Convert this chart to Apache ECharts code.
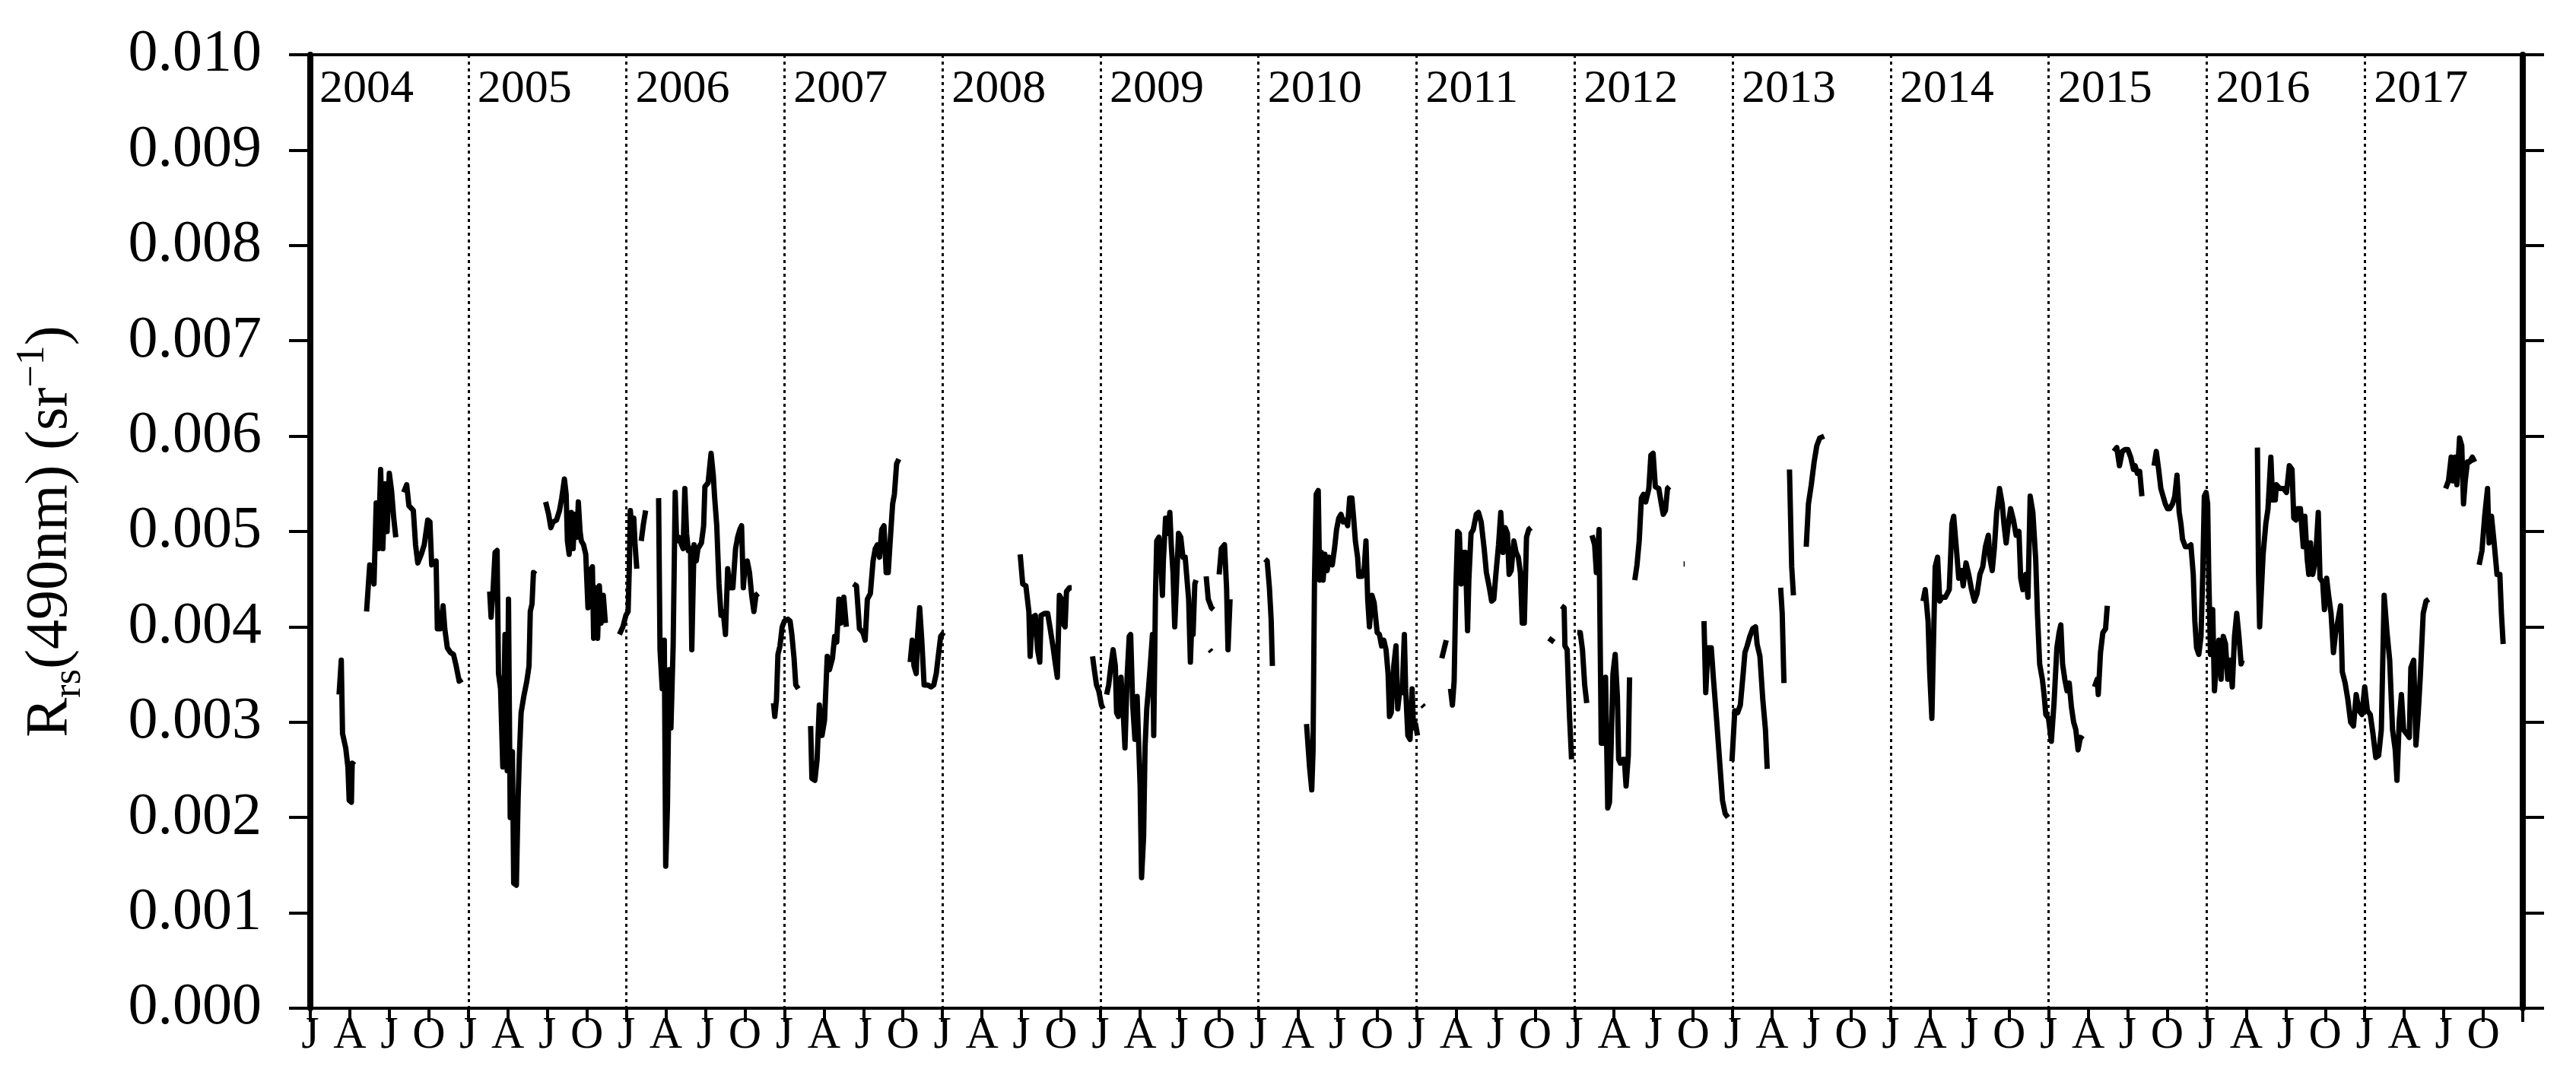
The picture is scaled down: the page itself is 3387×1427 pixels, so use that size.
<!DOCTYPE html>
<html><head><meta charset="utf-8">
<script src="https://cdn.jsdelivr.net/npm/echarts@6/dist/echarts.min.js"></script>
<style>html,body{margin:0;padding:0;background:#fff}#c{width:3387px;height:1427px}</style>
</head><body><div id="c"></div>
<script>
// Rrs(490nm) values in units of 1e-3 sr^-1; each year = list of continuous segments of [fraction of year, value]
const rrs2004 = [
 [[0.182,3.29],[0.196,3.65],[0.204,2.88],[0.224,2.73],[0.238,2.53],[0.246,2.18],[0.260,2.16],[0.265,2.57],[0.279,2.55]],
 [[0.356,4.16],[0.376,4.65],[0.390,4.63],[0.403,4.45],[0.417,5.30],[0.431,4.82],[0.445,5.65],[0.459,4.82],[0.472,5.50],[0.486,5.00],[0.500,5.61],[0.514,5.43],[0.528,5.14],[0.541,4.94]],
 [[0.591,5.41],[0.610,5.49],[0.624,5.27],[0.652,5.22],[0.666,4.86],[0.680,4.67],[0.702,4.76],[0.721,4.86],[0.743,5.12],[0.757,5.10],[0.768,4.65],[0.796,4.69],[0.804,3.98],[0.823,3.98],[0.840,4.22],[0.851,3.98],[0.867,3.78],[0.887,3.73],[0.906,3.71],[0.923,3.59],[0.942,3.43],[0.961,3.45]]
];
const rrs2005 = [
 [[0.135,4.37],[0.144,4.10],[0.157,4.40],[0.169,4.78],[0.182,4.80],[0.191,3.51],[0.204,3.35],[0.218,2.53],[0.232,3.92],[0.246,2.49],[0.254,4.29],[0.265,2.00],[0.279,2.69],[0.287,1.31],[0.304,1.29],[0.315,2.20],[0.323,2.65],[0.334,3.10],[0.351,3.27],[0.370,3.43],[0.384,3.59],[0.392,4.16],[0.403,4.24],[0.412,4.57],[0.425,4.55]],
 [[0.489,5.31],[0.508,5.18],[0.522,5.04],[0.536,5.10],[0.558,5.12],[0.577,5.22],[0.591,5.35],[0.608,5.55],[0.619,5.39],[0.627,4.90],[0.638,4.76],[0.652,5.20],[0.663,4.82],[0.674,5.18],[0.688,4.94],[0.696,5.31],[0.707,5.00],[0.715,4.90],[0.729,4.86],[0.743,4.76],[0.757,4.20],[0.771,4.59],[0.785,4.63],[0.793,3.88],[0.807,4.41],[0.818,3.88],[0.829,4.43],[0.840,4.04],[0.854,4.33],[0.867,4.04]]
];
const rrs2006 = [
 [[-0.044,3.92],[-0.022,4.00],[-0.003,4.12],[0.011,4.16],[0.019,4.65],[0.025,5.22],[0.039,4.94],[0.047,5.14],[0.055,4.86],[0.066,4.61]],
 [[0.094,4.90],[0.108,5.08],[0.122,5.22]],
 [[0.204,5.35],[0.213,3.76],[0.227,3.35],[0.240,3.86],[0.249,1.49],[0.260,2.12],[0.271,3.55],[0.282,2.94],[0.296,3.80],[0.309,5.41],[0.318,4.90],[0.331,4.94],[0.345,4.88],[0.359,4.82],[0.370,5.45],[0.381,4.98],[0.392,4.80],[0.406,4.82],[0.414,3.76],[0.428,4.86],[0.442,4.69],[0.453,4.82],[0.475,4.88],[0.489,5.06],[0.497,5.47],[0.517,5.51],[0.536,5.82],[0.550,5.59],[0.558,5.37],[0.572,5.06],[0.586,4.45],[0.599,4.12],[0.613,4.16],[0.627,3.92],[0.641,4.61],[0.655,4.41],[0.674,4.41],[0.691,4.82],[0.704,4.94],[0.718,5.02],[0.729,5.06],[0.740,4.41],[0.751,4.65],[0.765,4.69],[0.779,4.57],[0.793,4.33],[0.807,4.16],[0.820,4.33],[0.834,4.35]]
];
const rrs2007 = [
 [[-0.069,3.20],[-0.061,3.06],[-0.050,3.24],[-0.041,3.71],[-0.028,3.80],[-0.014,4.00],[0.000,4.06],[0.022,4.08],[0.036,4.06],[0.047,3.92],[0.061,3.67],[0.072,3.39],[0.088,3.35]],
 [[0.166,2.96],[0.174,2.41],[0.193,2.39],[0.207,2.61],[0.221,3.18],[0.238,2.86],[0.254,3.02],[0.271,3.69],[0.285,3.55],[0.304,3.67],[0.318,3.90],[0.331,3.84],[0.345,4.29],[0.359,4.04],[0.376,4.31],[0.392,4.00]],
 [[0.436,4.45],[0.456,4.43],[0.475,3.98],[0.497,3.94],[0.511,3.86],[0.525,4.29],[0.544,4.35],[0.561,4.69],[0.575,4.82],[0.588,4.86],[0.602,4.73],[0.616,5.02],[0.630,5.06],[0.644,4.57],[0.657,4.57],[0.671,4.94],[0.685,5.29],[0.696,5.39],[0.710,5.71],[0.724,5.76]],
 [[0.796,3.63],[0.809,3.86],[0.820,3.59],[0.834,3.51],[0.843,3.92],[0.856,4.20],[0.870,3.84],[0.884,3.39],[0.906,3.39],[0.928,3.37],[0.945,3.39],[0.961,3.51],[0.972,3.67],[0.989,3.90],[1.008,3.94]]
];
const rrs2008 = [
 [[0.492,4.76],[0.508,4.45],[0.528,4.43],[0.547,4.16],[0.555,3.69],[0.569,4.10],[0.588,4.12],[0.602,3.76],[0.616,3.63],[0.624,4.12],[0.646,4.14],[0.666,4.14],[0.680,4.00],[0.699,3.80],[0.713,3.63],[0.727,3.47],[0.740,4.33],[0.754,4.29],[0.762,4.04],[0.776,4.00],[0.785,4.37],[0.804,4.41],[0.818,4.41]],
 [[0.950,3.69],[0.961,3.55],[0.975,3.39],[0.989,3.33],[1.006,3.18],[1.017,3.14]]
];
const rrs2009 = [
 [[0.039,3.29],[0.052,3.39],[0.066,3.59],[0.080,3.76],[0.094,3.59],[0.102,3.10],[0.113,3.06],[0.130,3.47],[0.144,3.10],[0.155,2.73],[0.169,3.49],[0.182,3.90],[0.191,3.92],[0.204,3.18],[0.218,2.82],[0.232,3.27],[0.240,2.86],[0.251,2.33],[0.260,1.37],[0.273,1.80],[0.282,2.73],[0.293,3.14],[0.304,3.35],[0.315,3.59],[0.329,3.92],[0.337,2.86],[0.348,4.33],[0.356,4.90],[0.370,4.94],[0.384,4.61],[0.392,4.33],[0.398,4.69],[0.412,5.14],[0.425,4.98],[0.439,5.20],[0.448,4.86],[0.459,4.57],[0.470,4.00],[0.481,4.45],[0.494,4.98],[0.508,4.94],[0.522,4.73],[0.536,4.73],[0.550,4.45],[0.558,4.29],[0.569,3.63],[0.577,4.00],[0.586,3.92],[0.597,4.45],[0.605,4.49]],
 [[0.669,4.53],[0.682,4.29],[0.702,4.20],[0.715,4.18]],
 [[0.691,3.76],[0.702,3.74]],
 [[0.751,4.55],[0.765,4.82],[0.785,4.86],[0.798,4.41],[0.807,3.76],[0.820,4.29]]
];
const rrs2010 = [
 [[0.041,4.71],[0.055,4.69],[0.069,4.41],[0.080,4.08],[0.088,3.59]],
 [[0.304,2.98],[0.323,2.53],[0.337,2.29],[0.345,2.69],[0.354,4.45],[0.365,5.39],[0.378,5.43],[0.387,4.49],[0.398,4.78],[0.409,4.49],[0.420,4.76],[0.434,4.59],[0.448,4.73],[0.467,4.65],[0.481,4.82],[0.494,5.02],[0.508,5.14],[0.522,5.18],[0.536,5.10],[0.552,5.12],[0.564,5.06],[0.577,5.35],[0.591,5.35],[0.602,5.14],[0.613,4.90],[0.627,4.73],[0.635,4.53],[0.655,4.53],[0.669,4.61],[0.680,4.90],[0.691,4.29],[0.702,4.00],[0.718,4.33],[0.732,4.25],[0.751,3.94],[0.765,3.92],[0.779,3.80],[0.793,3.86],[0.807,3.76],[0.820,3.51],[0.829,3.06],[0.840,3.10],[0.856,3.59],[0.870,3.80],[0.881,3.14],[0.895,3.35],[0.909,3.31],[0.923,3.92],[0.931,3.35],[0.945,2.86],[0.959,2.82],[0.972,3.35],[0.981,2.94],[0.994,2.98],[1.006,2.86]],
 [[1.036,3.18],[1.047,3.16]]
];
const rrs2011 = [
 [[0.160,3.67],[0.188,3.86]],
 [[0.215,3.35],[0.227,3.18],[0.238,3.43],[0.249,4.41],[0.260,5.00],[0.271,4.98],[0.282,4.45],[0.296,4.78],[0.309,4.78],[0.323,3.96],[0.331,4.49],[0.345,4.98],[0.359,5.02],[0.378,5.18],[0.392,5.20],[0.409,5.10],[0.428,4.82],[0.442,4.57],[0.461,4.41],[0.475,4.27],[0.489,4.29],[0.503,4.57],[0.519,4.86],[0.533,5.20],[0.547,4.78],[0.561,5.04],[0.575,4.98],[0.586,4.55],[0.599,4.59],[0.616,4.90],[0.630,4.78],[0.644,4.73],[0.657,4.57],[0.669,4.04],[0.682,4.04],[0.696,4.94],[0.710,5.02],[0.724,5.04]],
 [[0.837,3.88],[0.870,3.84]],
 [[0.917,4.22],[0.934,4.20],[0.939,3.80],[0.953,3.76],[0.967,3.10],[0.981,2.61]]
];
const rrs2012 = [
 [[0.017,3.94],[0.036,3.94],[0.050,3.76],[0.064,3.39],[0.077,3.20]],
 [[0.110,4.96],[0.127,4.86],[0.138,4.57],[0.155,5.02],[0.160,4.16],[0.169,2.78],[0.182,2.78],[0.196,3.47],[0.210,2.10],[0.221,2.16],[0.232,2.78],[0.243,3.51],[0.257,3.71],[0.271,3.27],[0.279,2.61],[0.290,2.57],[0.304,2.61],[0.315,2.61],[0.326,2.33],[0.340,2.65],[0.348,3.47]],
 [[0.381,4.49],[0.395,4.65],[0.409,4.90],[0.423,5.35],[0.436,5.39],[0.450,5.31],[0.470,5.45],[0.483,5.80],[0.497,5.82],[0.511,5.47],[0.533,5.45],[0.547,5.31],[0.561,5.18],[0.575,5.22],[0.588,5.45],[0.600,5.47]],
 [[0.690,4.66],[0.697,4.66]],
 [[0.819,4.06],[0.830,3.31],[0.844,3.78],[0.865,3.78],[0.879,3.45],[0.900,3.00],[0.918,2.59],[0.936,2.18],[0.953,2.04],[0.971,2.00]]
];
const rrs2013 = [
 [[-0.004,2.59],[0.014,3.12],[0.032,3.10],[0.049,3.18],[0.067,3.51],[0.078,3.73],[0.092,3.80],[0.109,3.90],[0.127,3.98],[0.145,4.00],[0.155,3.82],[0.173,3.69],[0.191,3.24],[0.208,2.92],[0.219,2.51]],
 [[0.304,4.41],[0.314,4.14],[0.325,3.41]],
 [[0.360,5.65],[0.374,4.63],[0.385,4.33]],
 [[0.466,4.84],[0.480,5.29],[0.498,5.49],[0.516,5.73],[0.533,5.90],[0.551,5.98],[0.579,6.00]]
];
const rrs2014 = [
 [[0.205,4.27],[0.219,4.39],[0.237,4.06],[0.247,3.53],[0.261,3.04],[0.272,3.90],[0.282,4.63],[0.297,4.73],[0.311,4.27],[0.325,4.31],[0.346,4.31],[0.371,4.39],[0.388,5.08],[0.399,5.16],[0.417,4.80],[0.431,4.51],[0.448,4.59],[0.459,4.43],[0.477,4.67],[0.494,4.55],[0.512,4.39],[0.530,4.27],[0.547,4.35],[0.565,4.55],[0.583,4.63],[0.600,4.84],[0.618,4.96],[0.629,4.71],[0.643,4.59],[0.657,4.84],[0.671,5.20],[0.689,5.45],[0.706,5.29],[0.717,5.08],[0.731,4.88],[0.742,5.04],[0.759,5.24],[0.777,5.12],[0.794,4.96],[0.812,5.00],[0.823,4.51],[0.837,4.39],[0.855,4.55],[0.869,4.31],[0.883,5.37],[0.900,5.20],[0.918,4.71],[0.929,4.14],[0.943,3.61],[0.960,3.45],[0.971,3.29],[0.982,3.08],[0.999,3.04],[1.017,2.80],[1.034,3.20],[1.052,3.78],[1.066,3.94],[1.077,4.02],[1.088,3.61],[1.102,3.45],[1.116,3.33],[1.130,3.41],[1.144,3.16],[1.158,3.00],[1.172,2.92],[1.186,2.71],[1.201,2.84],[1.218,2.82]]
];
const rrs2015 = [
 [[0.290,3.37],[0.307,3.45],[0.314,3.29],[0.328,3.73],[0.343,3.94],[0.360,3.98],[0.371,4.22]],
 [[0.413,5.84],[0.431,5.88],[0.448,5.69],[0.466,5.84],[0.484,5.86],[0.501,5.86],[0.519,5.78],[0.537,5.65],[0.547,5.69],[0.561,5.61],[0.576,5.63],[0.590,5.37]],
 [[0.667,5.69],[0.681,5.84],[0.696,5.65],[0.710,5.45],[0.724,5.37],[0.738,5.29],[0.752,5.24],[0.766,5.24],[0.784,5.29],[0.798,5.37],[0.812,5.59],[0.826,5.20],[0.837,5.08],[0.847,4.92],[0.865,4.84],[0.883,4.84],[0.900,4.86],[0.915,4.55],[0.925,4.06],[0.936,3.78],[0.950,3.71],[0.964,3.90],[0.975,4.55],[0.985,5.37],[0.996,5.41],[1.006,5.29],[1.013,4.55],[1.024,3.71],[1.038,4.18],[1.049,3.33],[1.066,3.73],[1.077,3.86],[1.091,3.45],[1.105,3.90],[1.119,3.82],[1.133,3.45],[1.148,3.65],[1.162,3.37],[1.176,3.90],[1.190,4.14],[1.204,3.90],[1.218,3.61],[1.225,3.65]]
];
const rrs2016 = [
 [[0.321,5.88],[0.328,4.55],[0.335,4.00],[0.357,4.76],[0.374,5.08],[0.388,5.24],[0.406,5.78],[0.417,5.33],[0.434,5.33],[0.441,5.49],[0.463,5.45],[0.487,5.45],[0.505,5.41],[0.523,5.69],[0.540,5.65],[0.551,5.14],[0.565,5.12],[0.576,5.24],[0.593,5.24],[0.611,4.84],[0.621,5.16],[0.636,4.71],[0.646,4.55],[0.657,4.88],[0.671,4.55],[0.689,4.71],[0.706,5.20],[0.717,4.51],[0.734,4.47],[0.745,4.18],[0.759,4.51],[0.770,4.35],[0.787,4.14],[0.802,3.73],[0.816,3.94],[0.830,4.06],[0.847,4.22],[0.858,3.53],[0.876,3.41],[0.893,3.24],[0.911,3.00],[0.929,2.96],[0.946,3.29],[0.964,3.12],[0.982,3.08],[1.000,3.37],[1.017,3.12],[1.035,3.08],[1.052,2.88],[1.070,2.63],[1.088,2.65],[1.105,2.92],[1.123,4.33],[1.141,3.94],[1.158,3.65],[1.176,2.92],[1.193,2.71],[1.204,2.39],[1.218,3.00],[1.232,3.29],[1.246,2.92],[1.264,2.88],[1.282,2.84],[1.292,3.57],[1.310,3.65],[1.324,2.76],[1.338,3.08],[1.352,3.49],[1.370,4.14],[1.388,4.27],[1.405,4.29]]
];
const rrs2017 = [
 [[0.512,5.45],[0.530,5.53],[0.547,5.78],[0.558,5.53],[0.572,5.78],[0.583,5.49],[0.600,5.98],[0.614,5.90],[0.625,5.29],[0.636,5.53],[0.650,5.73],[0.664,5.73],[0.681,5.78],[0.696,5.73]],
 [[0.724,4.65],[0.742,4.80],[0.759,5.16],[0.777,5.45],[0.787,4.88],[0.802,5.16],[0.819,4.88],[0.837,4.55],[0.855,4.55],[0.865,4.14],[0.876,3.82]]
];
const years = [2004,2005,2006,2007,2008,2009,2010,2011,2012,2013,2014,2015,2016,2017];
const yearData = [rrs2004,rrs2005,rrs2006,rrs2007,rrs2008,rrs2009,rrs2010,rrs2011,rrs2012,rrs2013,rrs2014,rrs2015,rrs2016,rrs2017];
const monthLabels = ['J','A','J','O'];
const yTickDecimals = 3;

const FONT = 'Liberation Serif';
const series = [];
years.forEach((yr, i) => {
  yearData[i].forEach(seg => {
    series.push({
      type: 'line', xAxisIndex: 0, yAxisIndex: 0, silent: true,
      showSymbol: false, symbol: 'none',
      lineStyle: { color: '#000', width: 7, join: 'round' },
      data: seg.map(p => [yr + p[0], p[1] / 1000])
    });
  });
});

const chart = echarts.init(document.getElementById('c'), null, { renderer: 'canvas' });
chart.setOption({
  animation: false,
  backgroundColor: '#fff',
  grid: { left: 408, right: 70, top: 72, bottom: 101, containLabel: false, outerBoundsMode: 'none' },
  xAxis: [
    {
      type: 'value', position: 'bottom', min: 2004, max: 2018, interval: 0.25,
      axisLine: { show: true, onZero: false, lineStyle: { color: '#000', width: 4 } },
      axisTick: { show: true, inside: false, length: 18, lineStyle: { color: '#000', width: 4 } },
      axisLabel: {
        show: true, margin: 36, verticalAlign: 'middle', fontFamily: FONT, fontSize: 60, color: '#000',
        formatter: v => { if (v > 2017.99) return ''; const q = ((Math.round(v * 4) % 4) + 4) % 4; return monthLabels[q]; }
      },
      splitLine: { show: false }
    },
    {
      type: 'value', position: 'top', min: 2004, max: 2018, interval: 1,
      axisLine: { show: true, onZero: false, lineStyle: { color: '#000', width: 4 } },
      axisTick: { show: false },
      axisLabel: {
        show: true, inside: true, margin: 46, align: 'left', verticalAlign: 'middle', padding: [0, 0, 0, 12],
        fontFamily: FONT, fontSize: 62, color: '#000',
        formatter: v => (v > 2017.99 ? '' : String(Math.round(v)))
      },
      splitLine: { show: true, lineStyle: { color: '#000', width: 3, type: [4, 5] } }
    }
  ],
  yAxis: [
    {
      type: 'value', position: 'left', min: 0, max: 0.01, interval: 0.001,
      axisLine: { show: true, onZero: false, lineStyle: { color: '#000', width: 8 } },
      axisTick: { show: true, inside: false, length: 28, lineStyle: { color: '#000', width: 4 } },
      axisLabel: { show: true, margin: 64, fontFamily: FONT, fontSize: 78, color: '#000', formatter: v => v.toFixed(yTickDecimals) },
      splitLine: { show: false },
      name: '{m|R}{sub|rs}{m|(490nm) (sr}{sup|\u22121}{m|)}',
      nameLocation: 'middle', nameRotate: 90, nameGap: 291,
      nameTextStyle: {
        fontFamily: FONT, fontSize: 78, color: '#000',
        rich: {
          m: { fontFamily: FONT, fontSize: 78, color: '#000', lineHeight: 100 },
          sub: { fontFamily: FONT, fontSize: 52, color: '#000', lineHeight: 50, verticalAlign: 'bottom' },
          sup: { fontFamily: FONT, fontSize: 52, color: '#000', lineHeight: 50, verticalAlign: 'top' }
        }
      }
    },
    {
      type: 'value', position: 'right', min: 0, max: 0.01, interval: 0.001,
      axisLine: { show: true, onZero: false, lineStyle: { color: '#000', width: 8 } },
      axisTick: { show: true, inside: false, length: 28, lineStyle: { color: '#000', width: 4 } },
      axisLabel: { show: false },
      splitLine: { show: false }
    }
  ],
  series: series
});
</script>
</body></html>
